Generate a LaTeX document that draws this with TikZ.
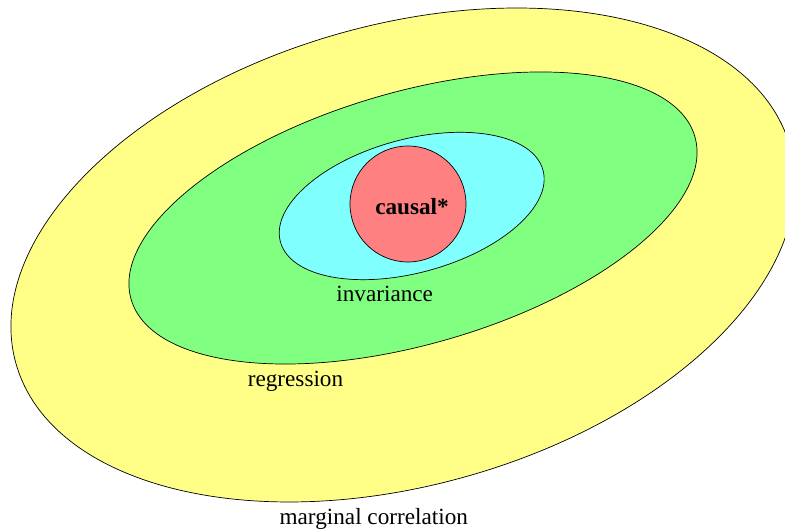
\documentclass[tikz,border=0pt]{standalone}
\usepackage{fontspec}
\setmainfont{Liberation Serif}
\definecolor{cyel}{RGB}{255,255,136}
\definecolor{cgrn}{RGB}{128,255,128}
\definecolor{ccya}{RGB}{128,255,255}
\definecolor{cred}{RGB}{255,128,128}
\tikzset{
  region/.style={draw=black, line width=0.7pt},
  lbl/.style={anchor=base, inner sep=0pt, font=\fontsize{23.2}{26}\selectfont},
}
\begin{document}
\begin{tikzpicture}[x=1pt,y=1pt]
\useasboundingbox (0,0) rectangle (785,529);
\clip (0,0) rectangle (785,529);
\draw[region, fill=cyel, rotate around={15.65:(403,274)}] (403,274) ellipse [x radius=402, y radius=230.4];
\draw[region, fill=cgrn, rotate around={16.1:(413,311)}] (413,311) ellipse [x radius=293.4, y radius=126.2];
\draw[region, fill=ccya, rotate around={15.3:(411.7,323)}] (411.7,323) ellipse [x radius=136.1, y radius=66.7];
\draw[region, fill=cred] (408,325) circle [radius=58];
\node[lbl, font=\fontsize{23.2}{26}\selectfont\bfseries] (causal) at (412,314.5) {causal*};
\node[lbl] (inv) at (384.7,227) {invariance};
\node[lbl] (reg) at (295.5,142) {regression};
\node[lbl] (marg) at (373.8,4) {marginal correlation};
\end{tikzpicture}
\end{document}
